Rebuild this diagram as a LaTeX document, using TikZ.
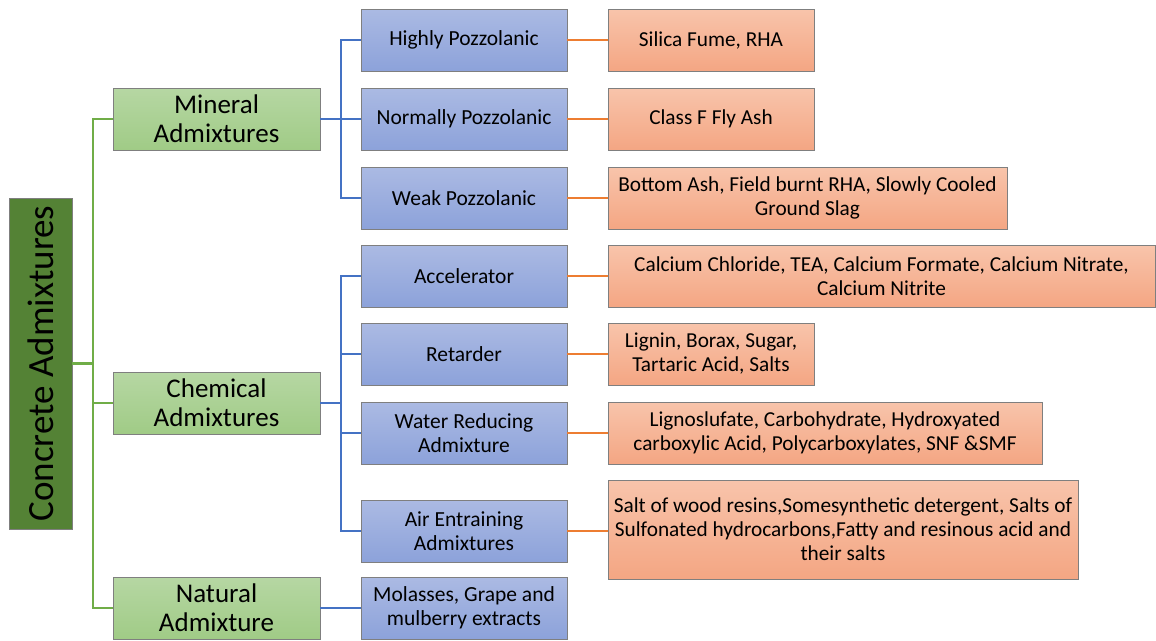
\documentclass[tikz,border=0pt]{standalone}
\usepackage{fontspec}
\setmainfont{Carlito}
\definecolor{gTop}{HTML}{B6D7A3}
\definecolor{gBot}{HTML}{A0CB86}
\definecolor{bTop}{HTML}{ABBAE3}
\definecolor{bBot}{HTML}{8CA2DA}
\definecolor{oTop}{HTML}{F8C4AB}
\definecolor{oBot}{HTML}{F4A683}
\definecolor{rootG}{HTML}{548235}
\definecolor{gLine}{HTML}{70AD47}
\definecolor{bLine}{HTML}{4472C4}
\definecolor{oLine}{HTML}{ED7D31}
\definecolor{edge}{HTML}{7F7F7F}
\begin{document}
\begin{tikzpicture}[x=1pt,y=-1pt,
  box/.style={draw=edge, line width=0.8pt, inner sep=1pt, align=center, text=black},
  rootbox/.style={box, fill=rootG, minimum width=331pt, minimum height=63pt, rotate=90, font=\fontsize{37}{42}\selectfont},
  greenbox/.style={box, top color=gTop, bottom color=gBot, minimum width=207pt, minimum height=62pt, font=\fontsize{27}{29}\selectfont},
  bluebox/.style={box, top color=bTop, bottom color=bBot, minimum width=206pt, minimum height=62pt, font=\fontsize{21.5}{24}\selectfont},
  orangebox/.style={box, top color=oTop, bottom color=oBot, minimum height=62pt, font=\fontsize{21.3}{24}\selectfont},
  gline/.style={draw=gLine, line width=2.2pt},
  bline/.style={draw=bLine, line width=2.2pt},
  oline/.style={draw=oLine, line width=2.2pt}]
\useasboundingbox (0,0) rectangle (1156,640);
% root
\node[rootbox] (root) at (40.5,363.5) {Concrete Admixtures};
% green
\node[greenbox] (g1) at (216.5,119) {Mineral\\Admixtures};
\node[greenbox] (g2) at (216.5,403) {Chemical\\Admixtures};
\node[greenbox] (g3) at (216.5,608) {Natural\\Admixture};
% blue
\node[bluebox] (b1) at (464,40) {Highly Pozzolanic};
\node[bluebox] (b2) at (464,119) {Normally Pozzolanic};
\node[bluebox] (b3) at (464,198) {Weak Pozzolanic};
\node[bluebox] (b4) at (464,276) {Accelerator};
\node[bluebox] (b5) at (464,354) {Retarder};
\node[bluebox] (b6) at (464,433) {Water Reducing\\Admixture};
\node[bluebox] (b7) at (464,531) {Air Entraining\\Admixtures};
\node[bluebox] (b8) at (464,608) {Molasses, Grape and\\mulberry extracts};
% orange
\node[orangebox, minimum width=206pt] (o1) at (711,40) {Silica Fume, RHA};
\node[orangebox, minimum width=206pt] (o2) at (711,119) {Class F Fly Ash};
\node[orangebox, minimum width=399pt] (o3) at (807.5,198) {Bottom Ash, Field burnt RHA, Slowly Cooled\\Ground Slag};
\node[orangebox, minimum width=547pt] (o4) at (881.5,276) {Calcium Chloride, TEA, Calcium Formate, Calcium Nitrate,\\Calcium Nitrite};
\node[orangebox, minimum width=206pt] (o5) at (711,354) {Lignin, Borax, Sugar,\\Tartaric Acid, Salts};
\node[orangebox, minimum width=434pt] (o6) at (825,433) {Lignoslufate, Carbohydrate, Hydroxyated\\carboxylic Acid, Polycarboxylates, SNF \&SMF};
\node[orangebox, minimum width=470pt, minimum height=99pt] (o7) at (843,529.5) {Salt of wood resins,Somesynthetic detergent, Salts of\\Sulfonated hydrocarbons,Fatty and resinous acid and\\their salts};
% green connectors
\coordinate (tr) at (93,0);
\draw[gline] (g1.west) -- (g1.west -| tr) -- (g3.west -| tr) -- (g3.west);
\draw[gline] (g2.west) -- (g2.west -| tr);
\draw[gline] (root.south) -- (root.south -| tr);
% blue connectors
\coordinate (bm) at (341,0);
\draw[bline] (b1.west) -- (b1.west -| bm) -- (b3.west -| bm) -- (b3.west);
\draw[bline] (g1.east) -- (b2.west);
\draw[bline] (b4.west) -- (b4.west -| bm) -- (b7.west -| bm) -- (b7.west);
\draw[bline] (b5.west) -- (b5.west -| bm);
\draw[bline] (b6.west) -- (b6.west -| bm);
\draw[bline] (g2.east) -- (g2.east -| bm);
\draw[bline] (g3.east) -- (b8.west);
% orange connectors
\draw[oline] (b1.east) -- (o1.west);
\draw[oline] (b2.east) -- (o2.west);
\draw[oline] (b3.east) -- (o3.west);
\draw[oline] (b4.east) -- (o4.west);
\draw[oline] (b5.east) -- (o5.west);
\draw[oline] (b6.east) -- (o6.west);
\draw[oline] (b7.east) -- (o7.west |- b7.east);
\end{tikzpicture}
\end{document}
